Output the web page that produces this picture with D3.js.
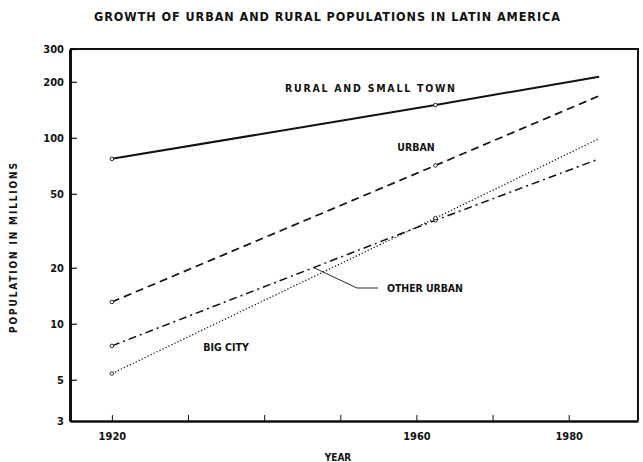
<!DOCTYPE html>
<html>
<head>
<meta charset="utf-8">
<script src="https://cdn.jsdelivr.net/npm/d3@7"></script>
<style>
  body { margin: 0; background: #fff; }
  text { font-family: "DejaVu Sans Condensed", "DejaVu Sans", sans-serif; font-weight: bold; fill: #111; }
  .axis path, .axis line { stroke: #111; }
</style>
</head>
<body>
<svg></svg>
<script>
// data (x positions follow the drawn year axis)
var years = [1920, 1962.5, 1984];
var rural = [77, 150, 213];
var urban = [13.1, 71, 168];
var otherUrban = [7.6, 36, 77];
var bigCity = [5.4, 37, 99];

var yTicks = [3, 5, 10, 20, 50, 100, 200, 300];
var xTicks = [1920, 1930, 1940, 1950, 1960, 1970, 1980];
var xLabels = [1920, 1960, 1980];

var width = 643, height = 462;
var svg = d3.select("svg").attr("width", width).attr("height", height);

var x = d3.scaleLinear().domain([1914.5, 1989.1]).range([70, 638]);
var y = d3.scaleLog().domain([3, 300]).range([421, 49]);

// title
svg.append("text")
  .attr("x", 327).attr("y", 21)
  .attr("text-anchor", "middle")
  .attr("font-size", 12.5)
  .attr("textLength", 466)
  .attr("lengthAdjust", "spacing")
  .text("GROWTH OF URBAN AND RURAL POPULATIONS IN LATIN AMERICA");

// frame top and right
svg.append("path")
  .attr("d", "M" + x.range()[0] + "," + y(300) + "H" + x.range()[1] + "V" + y(3))
  .attr("fill", "none").attr("stroke", "#111").attr("stroke-width", 2);

// y axis
var gy = svg.append("g").attr("class", "axis")
  .attr("transform", "translate(70,0)")
  .call(d3.axisLeft(y).tickValues(yTicks).tickFormat(d3.format("d")).tickSizeInner(-7).tickSizeOuter(0).tickPadding(6));
gy.select(".domain").attr("stroke-width", 3);
gy.selectAll(".tick line").attr("stroke-width", 1.2);
gy.selectAll(".tick text").attr("font-size", 11).attr("font-family", null);

// x axis
var gx = svg.append("g").attr("class", "axis")
  .attr("transform", "translate(0,421)")
  .call(d3.axisBottom(x).tickValues(xTicks)
    .tickFormat(d => xLabels.includes(d) ? d : "")
    .tickSizeInner(-6).tickSizeOuter(0).tickPadding(11));
gx.select(".domain").attr("stroke-width", 2.5);
gx.selectAll(".tick line").attr("stroke-width", 1);
gx.selectAll(".tick text").attr("font-size", 11).attr("font-family", null);

// axis titles
svg.append("text")
  .attr("x", 338).attr("y", 461)
  .attr("text-anchor", "middle").attr("font-size", 10)
  .text("YEAR");
svg.append("text")
  .attr("transform", "translate(17,248) rotate(-90)")
  .attr("text-anchor", "middle").attr("font-size", 10)
  .attr("textLength", 170).attr("lengthAdjust", "spacing")
  .text("POPULATION IN MILLIONS");

var series = [
  { name: "rural", values: rural, dash: null, w: 2 },
  { name: "urban", values: urban, dash: "8,5", w: 1.7 },
  { name: "other", values: otherUrban, dash: "8,4,2,4", w: 1.5 },
  { name: "big", values: bigCity, dash: "1.3,2", w: 1.2 }
];

var line = d3.line()
  .x((d, i) => x(years[i]))
  .y(d => y(d));

series.forEach(function (s) {
  svg.append("path")
    .attr("d", line(s.values))
    .attr("fill", "none")
    .attr("stroke", "#111")
    .attr("stroke-width", s.w)
    .attr("stroke-dasharray", s.dash);
  svg.selectAll(null)
    .data(s.values.slice(0, 2))
    .enter().append("circle")
    .attr("cx", (d, i) => x(years[i]))
    .attr("cy", d => y(d))
    .attr("r", 1.8)
    .attr("fill", "#fff")
    .attr("stroke", "#111")
    .attr("stroke-width", 0.9);
});

// labels on the lines
svg.append("text").attr("x", 370).attr("y", 92).attr("text-anchor", "middle")
  .attr("font-size", 10.5).attr("textLength", 170).attr("lengthAdjust", "spacing")
  .text("RURAL AND SMALL TOWN");
svg.append("text").attr("x", 416).attr("y", 151).attr("text-anchor", "middle")
  .attr("font-size", 10.5).text("URBAN");
svg.append("text").attr("x", 387).attr("y", 292)
  .attr("font-size", 10.5).attr("textLength", 76).attr("lengthAdjust", "spacing")
  .text("OTHER URBAN");
svg.append("text").attr("x", 226).attr("y", 351).attr("text-anchor", "middle")
  .attr("font-size", 10.5).text("BIG CITY");

// leader to other urban line
var lx = 1946.5;
var leaderY = y(otherUrban[0] * Math.pow(otherUrban[1] / otherUrban[0], (lx - years[0]) / (years[1] - years[0])));
svg.append("path")
  .attr("d", "M" + x(lx) + "," + leaderY + "L357,288H378")
  .attr("fill", "none").attr("stroke", "#111").attr("stroke-width", 0.9);
</script>
</body>
</html>
